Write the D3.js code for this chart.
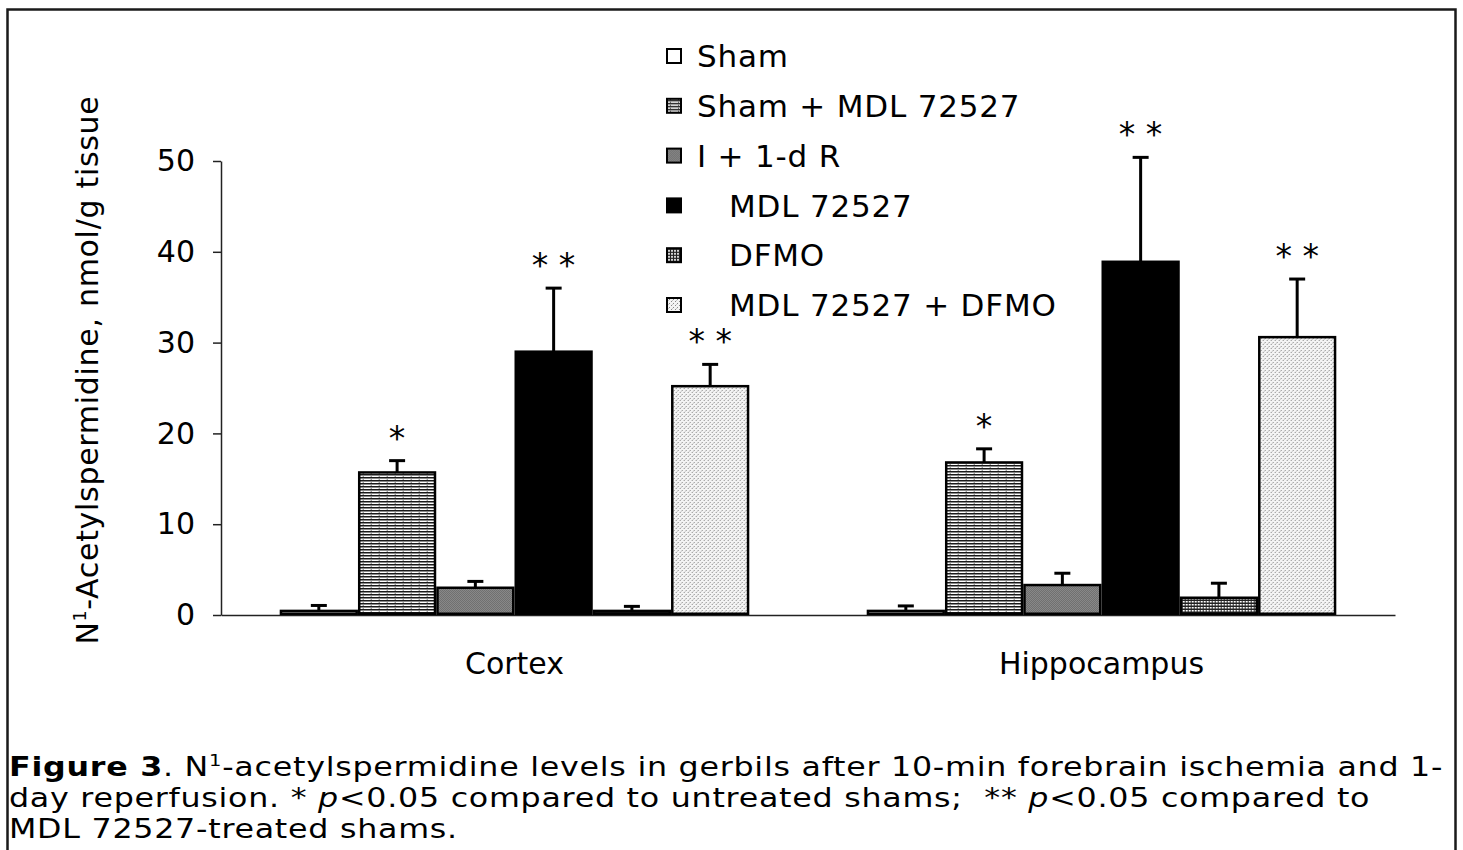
<!DOCTYPE html>
<html>
<head>
<meta charset="utf-8">
<script src="https://cdn.jsdelivr.net/npm/d3@7/dist/d3.min.js"></script>
<style>
  html, body { margin: 0; padding: 0; background: #fff; }
  svg { display: block; }
  text { font-family: "DejaVu Sans", Verdana, sans-serif; fill: #000; }
</style>
</head>
<body>
<svg id="chart" width="1463" height="850"></svg>
<script>
// ---------------- DATA ----------------
const categories = ["Cortex", "Hippocampus"];
const seriesNames = ["Sham", "Sham + MDL 72527", "I + 1-d R", "MDL 72527", "DFMO", "MDL 72527 + DFMO"];
const legendLabels = ["Sham", "Sham + MDL 72527", "I + 1-d R", "   MDL 72527", "   DFMO", "   MDL 72527 + DFMO"];
const cortexMeans  = [0.45, 15.7, 3.0, 29.0, 0.45, 25.2];
const cortexErrors = [0.6, 1.3, 0.7, 7.0, 0.5, 2.4];
const hippoMeans   = [0.45, 16.8, 3.3, 38.9, 1.9, 30.6];
const hippoErrors  = [0.55, 1.5, 1.3, 11.5, 1.6, 6.4];
const cortexStars  = ["", "*", "", "* *", "", "* *"];
const hippoStars   = ["", "*", "", "* *", "", "* *"];
const yTicks = [0, 10, 20, 30, 40, 50];
const yTitle = "-Acetylspermidine, nmol/g tissue";

// ---------------- LAYOUT ----------------
const svg = d3.select("#chart");
const plot = { left: 221, right: 1395, top: 161, bottom: 615 };

const rows = categories.map((c, ci) => ({
  category: c,
  means: ci === 0 ? cortexMeans : hippoMeans,
  errors: ci === 0 ? cortexErrors : hippoErrors,
  stars: ci === 0 ? cortexStars : hippoStars
}));

// patterns
const defs = svg.append("defs");
const p1 = defs.append("pattern").attr("id", "pStripe").attr("patternUnits", "userSpaceOnUse")
  .attr("width", 8).attr("height", 3);
p1.append("rect").attr("width", 8).attr("height", 3).attr("fill", "#fff");
p1.append("rect").attr("y", 0).attr("width", 8).attr("height", 1).attr("fill", "#1a1a1a");
p1.append("rect").attr("y", 1).attr("width", 8).attr("height", 1).attr("fill", "#8a8a8a");
p1.append("rect").attr("x", 3).attr("y", 2).attr("width", 1).attr("height", 1).attr("fill", "#777");
const p2 = defs.append("pattern").attr("id", "pGray").attr("patternUnits", "userSpaceOnUse")
  .attr("width", 2).attr("height", 2);
p2.append("rect").attr("width", 2).attr("height", 2).attr("fill", "#9a9a9a");
p2.append("rect").attr("width", 1).attr("height", 1).attr("fill", "#5e5e5e");
p2.append("rect").attr("x", 1).attr("y", 1).attr("width", 1).attr("height", 1).attr("fill", "#5e5e5e");
const p3 = defs.append("pattern").attr("id", "pGrid").attr("patternUnits", "userSpaceOnUse")
  .attr("width", 3).attr("height", 3);
p3.append("rect").attr("width", 3).attr("height", 3).attr("fill", "#222");
p3.append("rect").attr("x", 1).attr("y", 1).attr("width", 2).attr("height", 1.5).attr("fill", "#fff");
const p4 = defs.append("pattern").attr("id", "pDots").attr("patternUnits", "userSpaceOnUse")
  .attr("width", 4).attr("height", 4);
p4.append("rect").attr("width", 4).attr("height", 4).attr("fill", "#f4f4f4");
p4.append("rect").attr("x", 0).attr("y", 0).attr("width", 1).attr("height", 1).attr("fill", "#8c8c8c");
p4.append("rect").attr("x", 2).attr("y", 2).attr("width", 1).attr("height", 1).attr("fill", "#8c8c8c");
p4.append("rect").attr("x", 1).attr("y", 3).attr("width", 1).attr("height", 1).attr("fill", "#c8c8c8");

const fills = ["#fff", "url(#pStripe)", "url(#pGray)", "#000", "url(#pGrid)", "url(#pDots)"];

// outer frame
svg.append("rect").attr("x", 7.5).attr("y", 9.5).attr("width", 1448).attr("height", 850)
  .attr("fill", "none").attr("stroke", "#1a1a1a").attr("stroke-width", 2.5);

// scales
const y = d3.scaleLinear().domain([0, 50]).range([plot.bottom, plot.top]);
const x0 = d3.scaleBand().domain(categories).range([plot.left, plot.right])
  .paddingInner(0.2).paddingOuter(0.1);
const x1 = d3.scaleBand().domain(seriesNames).range([0, x0.bandwidth()]).padding(0);

// y axis
const yAxis = d3.axisLeft(y).tickValues(yTicks).tickSize(8).tickSizeOuter(0).tickPadding(18);
const gy = svg.append("g").attr("transform", `translate(${plot.left},0)`).call(yAxis);
gy.select(".domain").attr("stroke", "#222").attr("stroke-width", 1.5);
gy.selectAll(".tick line").attr("stroke", "#222").attr("stroke-width", 1.5);
gy.selectAll(".tick text").style("font-size", "30px").style("font-family", "DejaVu Sans, Verdana, sans-serif");

// baseline (x axis)
const xAxis = d3.axisBottom(x0).tickSize(0).tickSizeOuter(0).tickPadding(38);
const gx = svg.append("g").attr("transform", `translate(0,${plot.bottom})`).call(xAxis);
gx.select(".domain").attr("stroke", "#222").attr("stroke-width", 1.5);
gx.selectAll(".tick text").style("font-size", "30px").style("font-family", "DejaVu Sans, Verdana, sans-serif");

// bars
const groups = svg.append("g").selectAll("g").data(rows).join("g")
  .attr("transform", d => `translate(${x0(d.category)},0)`);

const items = d => seriesNames.map((s, i) => ({ s, i, v: d.means[i], e: d.errors[i], star: d.stars[i] }));

groups.selectAll("g.err").data(items).join("g").attr("class", "err").each(function(d) {
  const g = d3.select(this);
  const cx = x1(d.s) + x1.bandwidth() / 2;
  g.append("line").attr("x1", cx).attr("x2", cx).attr("y1", y(d.v)).attr("y2", y(d.v + d.e))
    .attr("stroke", "#000").attr("stroke-width", 3);
  g.append("line").attr("x1", cx - 8).attr("x2", cx + 8).attr("y1", y(d.v + d.e)).attr("y2", y(d.v + d.e))
    .attr("stroke", "#000").attr("stroke-width", 3);
});

groups.selectAll("rect.bar").data(items).join("rect").attr("class", "bar")
  .attr("x", d => x1(d.s) + 1.25)
  .attr("width", x1.bandwidth() - 2.5)
  .attr("y", d => y(d.v))
  .attr("height", d => Math.max(0, plot.bottom - y(d.v) - 1.25))
  .attr("fill", d => fills[d.i])
  .attr("stroke", "#000").attr("stroke-width", 2.5);

// significance stars
groups.selectAll("text.star").data(items).join("text").attr("class", "star")
  .attr("x", d => x1(d.s) + x1.bandwidth() / 2)
  .attr("y", d => y(d.v + d.e) - 11)
  .attr("text-anchor", "middle")
  .style("font-size", "33px")
  .style("white-space", "pre")
  .text(d => d.star);

// y-axis title
const yt = svg.append("text")
  .attr("transform", `translate(98,370) rotate(-90)`)
  .attr("text-anchor", "middle")
  .style("font-size", "30px").style("letter-spacing", "0.7px");
yt.append("tspan").text("N");
yt.append("tspan").attr("dy", -12).style("font-size", "17px").text("1");
yt.append("tspan").attr("dy", 12).text(yTitle);

// legend
const legend = svg.append("g").attr("transform", "translate(667,56)");
const li = legend.selectAll("g").data(legendLabels).join("g")
  .attr("transform", (d, i) => `translate(0,${i * 49.8})`);
li.append("rect").attr("x", 0).attr("y", -7).attr("width", 14).attr("height", 14)
  .attr("fill", (d, i) => fills[i]).attr("stroke", "#000").attr("stroke-width", 2);
li.append("text").attr("x", 30).attr("y", 0).attr("dy", "0.36em")
  .style("font-size", "31px").style("letter-spacing", "0.8px").style("white-space", "pre").text(d => d);

// caption (horizontally widened to mimic the wide original face)
const capStyle = sel => sel.style("font-size", "26px").style("letter-spacing", "0.6px").style("white-space", "pre");
const cap = svg.append("g").attr("transform", "translate(9,0) scale(1.22,1)");
const l1 = cap.append("text").attr("y", 776).call(capStyle);
l1.append("tspan").style("font-weight", "bold").text("Figure 3");
l1.append("tspan").text(". N");
l1.append("tspan").attr("dy", -10).style("font-size", "16px").text("1");
l1.append("tspan").attr("dy", 10).text("-acetylspermidine levels in gerbils after 10-min forebrain ischemia and 1-");
const l2 = cap.append("text").attr("y", 807).call(capStyle);
l2.append("tspan").text("day reperfusion. * ");
l2.append("tspan").style("font-style", "italic").text("p");
l2.append("tspan").text("<0.05 compared to untreated shams;  ** ");
l2.append("tspan").style("font-style", "italic").text("p");
l2.append("tspan").text("<0.05 compared to");
cap.append("text").attr("y", 838).call(capStyle).text("MDL 72527-treated shams.");
</script>
</body>
</html>
